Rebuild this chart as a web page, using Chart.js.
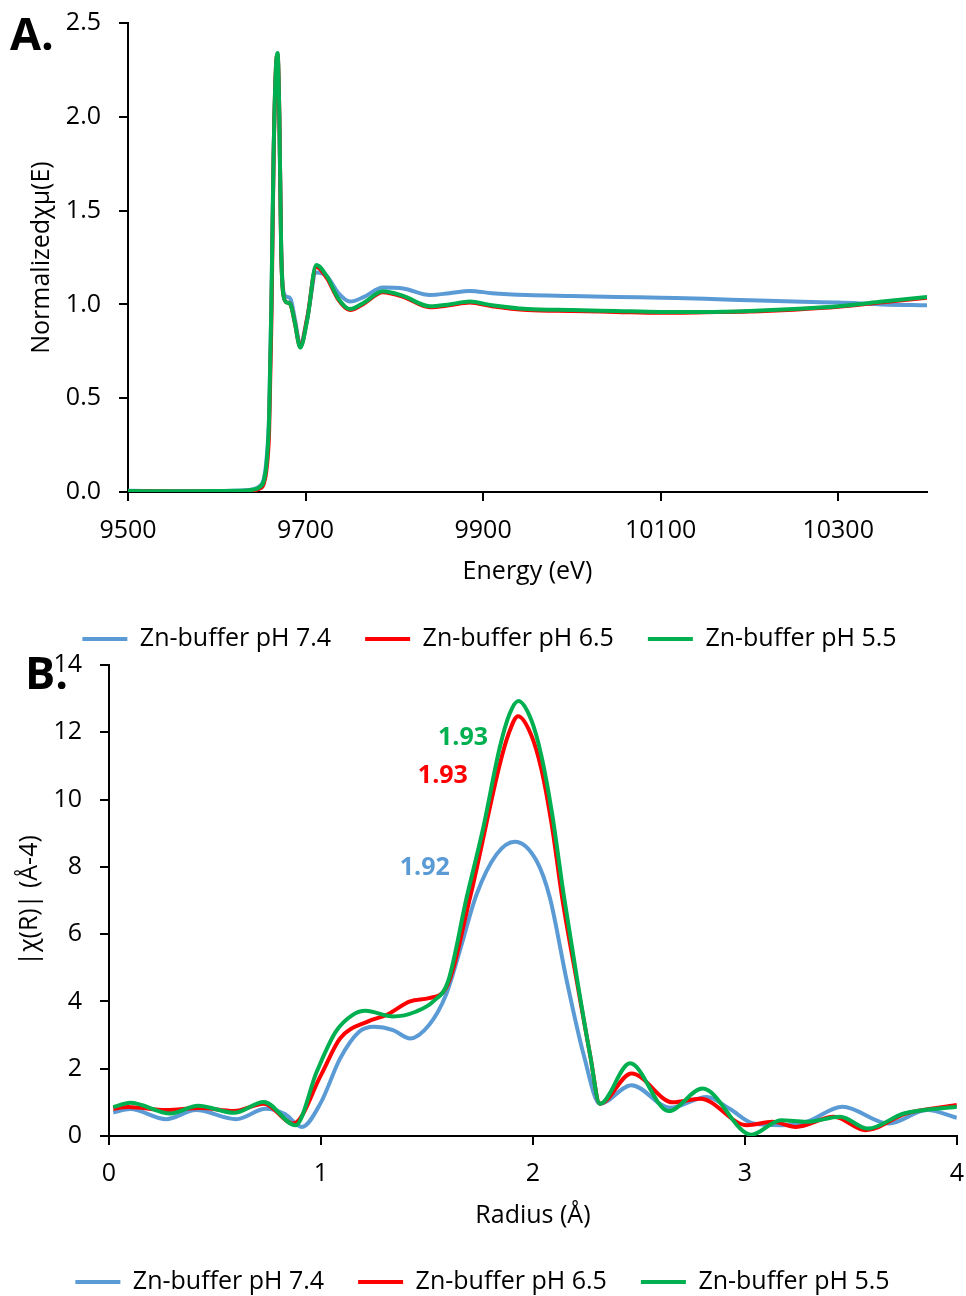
<!DOCTYPE html>
<html>
<head>
<meta charset="utf-8">
<script src="https://cdn.jsdelivr.net/npm/chart.js@4.4.1/dist/chart.umd.min.js"></script>
<style>
body { margin: 0; background: #fff; overflow: hidden; width: 966px; height: 1296px; position: relative; font-family: 'Open Sans', sans-serif; }
canvas { position: absolute; left: 0; }
#chartA { top: -10px; }
#chartB { top: 632px; }
.panel { position: absolute; font-weight: bold; font-size: 45px; line-height: 45px; color: #000; }
</style>
</head>
<body>
<canvas id="chartA" width="966" height="700"></canvas>
<canvas id="chartB" width="978" height="700"></canvas>
<div class="panel" style="left:10px;top:10px">A.</div>
<div class="panel" style="left:25px;top:649px">B.</div>
<script>
const FONT = "'Open Sans', sans-serif";

const seriesNames = ['Zn-buffer pH 7.4', 'Zn-buffer pH 6.5', 'Zn-buffer pH 5.5'];
const seriesColors = ['#5B9BD5', '#FF0000', '#00B050'];

// panel A - XANES
const energyEv = [9500, 9560, 9620, 9640, 9648, 9653, 9656, 9659, 9661.5, 9664,
  9666.5, 9668.5, 9670.5, 9672.5, 9675, 9679, 9683, 9688, 9694, 9702,
  9712, 9724, 9737, 9750, 9766, 9787, 9810, 9840, 9862, 9885,
  9910, 9950, 10000, 10050, 10100, 10150, 10200, 10250, 10300, 10350, 10400];
const muPH74 = [0.006, 0.005, 0.007, 0.014, 0.03, 0.07, 0.17, 0.42, 1.0, 1.8,
  2.22, 2.32, 1.98, 1.32, 1.07, 1.04, 1.03, 0.92, 0.785, 0.93,
  1.17, 1.15, 1.06, 1.015, 1.04, 1.09, 1.085, 1.05, 1.06, 1.072,
  1.06, 1.05, 1.045, 1.04, 1.035, 1.03, 1.022, 1.015, 1.01, 1.0, 0.995];
const muPH65 = [0.004, 0.003, 0.004, 0.008, 0.018, 0.045, 0.12, 0.33, 0.9, 1.78,
  2.25, 2.33, 2.0, 1.3, 1.05, 1.01, 1.0, 0.9, 0.775, 0.93,
  1.2, 1.14, 1.025, 0.97, 1.005, 1.065, 1.04, 0.985, 0.995, 1.01,
  0.99, 0.97, 0.965, 0.96, 0.955, 0.958, 0.962, 0.972, 0.987, 1.012, 1.035];
const muPH55 = [0.005, 0.004, 0.006, 0.012, 0.025, 0.06, 0.15, 0.4, 1.0, 1.8,
  2.25, 2.34, 2.0, 1.3, 1.05, 1.01, 1.0, 0.9, 0.77, 0.92,
  1.21, 1.15, 1.03, 0.975, 1.01, 1.07, 1.045, 0.99, 1.0, 1.015,
  0.995, 0.975, 0.97, 0.965, 0.96, 0.96, 0.965, 0.975, 0.99, 1.015, 1.04];
const energyTicks = [9500, 9700, 9900, 10100, 10300];
const muTicks = [0, 0.5, 1, 1.5, 2, 2.5];

// panel B - Fourier transform
const radiusPH74 = [0.02, 0.10, 0.27, 0.41, 0.60, 0.74, 0.83, 0.91, 1.0, 1.09, 1.18, 1.25, 1.34, 1.42, 1.51, 1.59,
  1.65, 1.734, 1.829, 1.915, 2.017, 2.08, 2.16, 2.24, 2.316, 2.465, 2.646, 2.82, 2.93, 3.04, 3.17, 3.29, 3.46, 3.68, 3.86, 4.0];
const chiPH74 = [0.70, 0.80, 0.50, 0.77, 0.50, 0.81, 0.65, 0.27, 1.0, 2.3, 3.1, 3.25, 3.15, 2.9, 3.3, 4.2,
  5.4, 7.18, 8.38, 8.75, 8.18, 7.08, 4.6, 2.4, 0.96, 1.51, 0.84, 1.16, 0.8, 0.37, 0.32, 0.42, 0.87, 0.37, 0.77, 0.54];
const radiusPH65 = [0.02, 0.09, 0.27, 0.43, 0.59, 0.73, 0.87, 1.0, 1.09, 1.22, 1.31, 1.42, 1.51, 1.59, 1.703, 1.844,
  1.885, 1.93, 1.99, 2.04, 2.09, 2.14, 2.21, 2.27, 2.316, 2.465, 2.66, 2.79, 3.01, 3.13, 3.24, 3.42, 3.57, 3.76, 4.0];
const chiPH65 = [0.81, 0.86, 0.77, 0.83, 0.74, 0.96, 0.37, 1.81, 2.9, 3.4, 3.6, 4.0, 4.1, 4.4, 7.08, 11.06,
  11.95, 12.48, 11.95, 10.9, 9.2, 7.0, 4.5, 2.4, 0.96, 1.86, 1.0, 1.11, 0.32, 0.42, 0.27, 0.57, 0.17, 0.67, 0.92];
const radiusPH55 = [0.02, 0.10, 0.29, 0.42, 0.59, 0.73, 0.88, 0.98, 1.07, 1.15, 1.21, 1.34, 1.45, 1.53, 1.60, 1.687,
  1.766, 1.844, 1.89, 1.931, 1.99, 2.04, 2.09, 2.145, 2.21, 2.27, 2.316, 2.458, 2.64, 2.80, 3.03, 3.17, 3.29, 3.45, 3.58, 3.75, 4.0];
const chiPH55 = [0.86, 0.99, 0.67, 0.90, 0.69, 1.01, 0.32, 1.91, 3.1, 3.6, 3.72, 3.55, 3.7, 4.0, 4.6, 7.08,
  9.17, 11.56, 12.55, 12.93, 12.4, 11.3, 9.6, 7.18, 4.6, 2.4, 0.96, 2.16, 0.74, 1.41, 0.04, 0.47, 0.42, 0.57, 0.22, 0.67, 0.87];
const radiusTicks = [0, 1, 2, 3, 4];
const chiTicks = [0, 2, 4, 6, 8, 10, 12, 14];
const peakText = ['1.92', '1.93', '1.93'];

function pts(xs, ys) {
    return xs.map((x, i) => ({ x: x, y: ys[i] }));
}

function makeDatasets(list) {
    return list.map((d, i) => ({
        label: seriesNames[i],
        data: d,
        borderColor: seriesColors[i],
        backgroundColor: seriesColors[i],
        borderWidth: 4,
        pointRadius: 0,
        cubicInterpolationMode: 'monotone',
        order: 2 - i
    }));
}

function scaleCfg(min, max, ticks, fmt, title, tickPad, titlePad, fitSize) {
    return {
        type: 'linear', min: min, max: max,
        afterBuildTicks: s => { s.ticks = ticks.map(v => ({ value: v })); },
        afterFit: s => { if (s.isHorizontal()) s.height = fitSize; else s.width = fitSize; },
        ticks: { color: '#000', font: { family: FONT, size: 25 }, padding: tickPad, callback: fmt, maxRotation: 0, autoSkip: false },
        grid: { drawOnChartArea: false, drawTicks: true, tickLength: 9, color: '#000', lineWidth: 2 },
        border: { color: '#000', width: 2 },
        title: { display: true, text: title, color: '#000', font: { family: FONT, size: 25 }, padding: titlePad }
    };
}

const legendCfg = {
    position: 'bottom',
    labels: {
        usePointStyle: true, pointStyle: 'line', pointStyleWidth: 45,
        color: '#000', font: { family: FONT, size: 25 }, padding: 34,
        sort: (a, b) => a.datasetIndex - b.datasetIndex
    }
};

// nudge the legend row sideways so it sits where the original one does
const legendShiftPlugin = {
    id: 'legendShift',
    afterLayout(chart, args, opts) {
        if (chart.legend && opts.dx) {
            chart.legend.left += opts.dx;
            chart.legend.right += opts.dx;
        }
    }
};

const peakLabelPlugin = {
    id: 'peakLabels',
    afterDatasetsDraw(chart, args, opts) {
        if (!opts.items) return;
        const ctx = chart.ctx;
        ctx.save();
        ctx.font = 'bold 25px ' + FONT;
        ctx.textAlign = 'center';
        ctx.textBaseline = 'middle';
        opts.items.forEach(it => {
            ctx.fillStyle = it.color;
            ctx.fillText(it.text, chart.scales.x.getPixelForValue(it.x), chart.scales.y.getPixelForValue(it.y));
        });
        ctx.restore();
    }
};

new Chart(document.getElementById('chartA'), {
    type: 'line',
    data: { datasets: makeDatasets([pts(energyEv, muPH74), pts(energyEv, muPH65), pts(energyEv, muPH55)]) },
    options: {
        responsive: false, animation: false,
        layout: { padding: { top: 23, right: 39, left: 0, bottom: 28.5 } },
        plugins: { legend: legendCfg, tooltip: { enabled: false }, legendShift: { dx: 26 } },
        scales: {
            x: scaleCfg(9500, 10400, energyTicks, v => String(v), 'Energy (eV)', 15, { top: 0, bottom: 5.5 }, 100.5),
            y: scaleCfg(0, 2.5, muTicks, v => v.toFixed(1), 'Normalizedχμ(E)', 18, { top: 27, bottom: 0 }, 128)
        }
    },
    plugins: [legendShiftPlugin]
});

new Chart(document.getElementById('chartB'), {
    type: 'line',
    data: { datasets: makeDatasets([pts(radiusPH74, chiPH74), pts(radiusPH65, chiPH65), pts(radiusPH55, chiPH55)]) },
    options: {
        responsive: false, animation: false,
        layout: { padding: { top: 25, right: 9, left: 0, bottom: 27.5 } },
        plugins: {
            legend: legendCfg, tooltip: { enabled: false }, legendShift: { dx: -2 },
            peakLabels: {
                items: [
                    { text: peakText[0], color: seriesColors[0], x: 1.49, y: 7.97 },
                    { text: peakText[1], color: seriesColors[1], x: 1.575, y: 10.69 },
                    { text: peakText[2], color: seriesColors[2], x: 1.67, y: 11.82 }
                ]
            }
        },
        scales: {
            x: scaleCfg(0, 4, radiusTicks, v => String(v), 'Radius (Å)', 14, { top: 0, bottom: 4.5 }, 99.5),
            y: scaleCfg(0, 14, chiTicks, v => String(v), '|χ(R)| (Å-4)', 18, { top: 15, bottom: 0 }, 109)
        }
    },
    plugins: [legendShiftPlugin, peakLabelPlugin]
});
</script>
</body>
</html>
